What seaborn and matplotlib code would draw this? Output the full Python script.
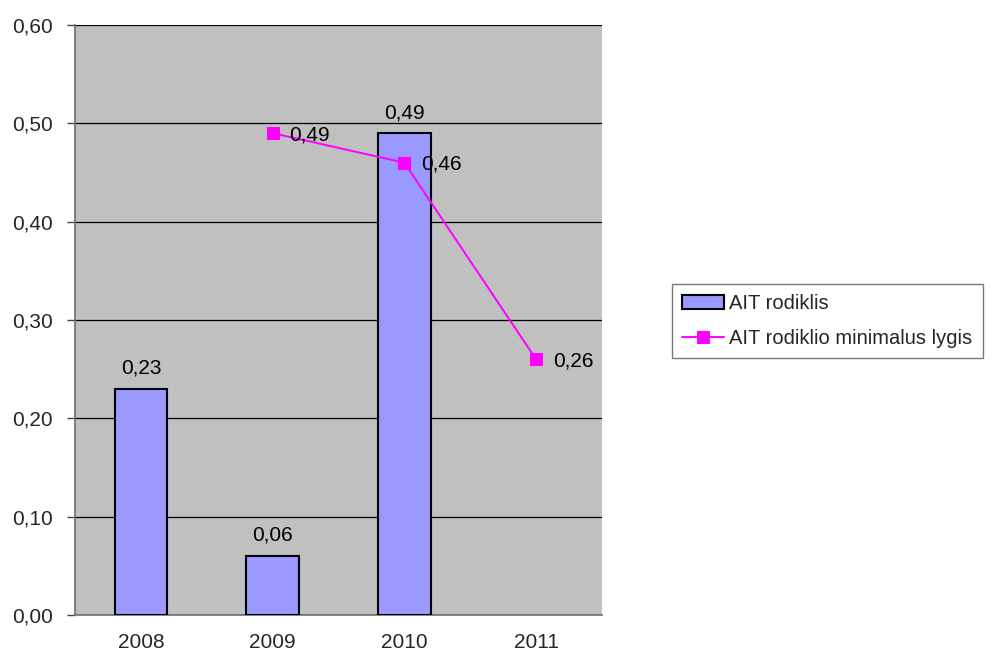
import matplotlib
matplotlib.use("Agg")
import matplotlib.pyplot as plt
import seaborn as sns
import numpy as np
import pandas as pd

years = ["2008", "2009", "2010", "2011"]
ait_values = [0.23, 0.06, 0.49, np.nan]
min_years = ["2009", "2010", "2011"]
min_values = [0.49, 0.46, 0.26]
y_ticks = [0.0, 0.1, 0.2, 0.3, 0.4, 0.5, 0.6]

bar_label = "AIT rodiklis"
line_label = "AIT rodiklio minimalus lygis"

sns.set_theme(style="white")
plt.rcParams["font.family"] = ["Liberation Sans", "DejaVu Sans"]

FS = 15

fig = plt.figure(figsize=(9.96, 6.59), dpi=100)
ax = fig.add_axes([75 / 996, 1 - 615 / 659, 527 / 996, 590 / 659])
ax.set_facecolor("#c0c0c0")

bars_df = pd.DataFrame({"year": years, "value": ait_values})
sns.barplot(data=bars_df, x="year", y="value", order=years, color="#9999ff",
            saturation=1, width=0.4, edgecolor="black", linewidth=1.5,
            ax=ax, label=bar_label, zorder=3)

line_df = pd.DataFrame({"pos": [years.index(y) for y in min_years], "value": min_values})
sns.lineplot(data=line_df, x="pos", y="value", color="#ff00ff", linewidth=1.4,
             marker="s", markersize=8, markeredgecolor="#ff00ff",
             ax=ax, label=line_label, zorder=4)

def fmt(v):
    return f"{v:.2f}".replace(".", ",")

for i, v in enumerate(ait_values):
    if not np.isnan(v):
        ax.annotate(fmt(v), (i, v), xytext=(0, 8), textcoords="offset points",
                    ha="center", va="bottom", fontsize=FS, color="black")
for y, v in zip(min_years, min_values):
    ax.annotate(fmt(v), (years.index(y), v), xytext=(12, -1), textcoords="offset points",
                ha="left", va="center", fontsize=FS, color="black", zorder=5)

ax.set_ylim(0, 0.6)
ax.set_xlim(-0.5, 3.5)
ax.set_yticks(y_ticks)
ax.set_yticklabels([fmt(t) for t in y_ticks], fontsize=FS)
ax.yaxis.grid(True, color="black", linewidth=0.9)
ax.set_axisbelow(True)

ax.set_xticks(range(len(years)))
ax.set_xticklabels(years, fontsize=FS)
ax.set_xticks(np.arange(-0.5, len(years), 1.0), minor=True)
ax.tick_params(axis="x", which="major", length=0, pad=13)
ax.tick_params(axis="x", which="minor", length=6, color="#444444", width=1)
ax.tick_params(axis="y", which="major", length=6, color="#444444", width=1, pad=10, left=True)
ax.set_xlabel("")
ax.set_ylabel("")

for side in ["top", "right"]:
    ax.spines[side].set_visible(False)
for side in ["left", "bottom"]:
    ax.spines[side].set_color("#6e6e6e")
    ax.spines[side].set_linewidth(1.2)

handles, labels = ax.get_legend_handles_labels()
order = [labels.index(bar_label), labels.index(line_label)]
leg = ax.legend([handles[i] for i in order], [labels[i] for i in order],
                loc="upper left", bbox_to_anchor=(672 / 996, 1 - 284 / 659),
                bbox_transform=fig.transFigure, fontsize=14.5, frameon=True, fancybox=False,
                edgecolor="#555555", handlelength=2.1, borderpad=0.5, labelspacing=0.8,
                handletextpad=0.25, borderaxespad=0)
leg.get_frame().set_linewidth(1.0)

fig.savefig("out.png", dpi=100)
